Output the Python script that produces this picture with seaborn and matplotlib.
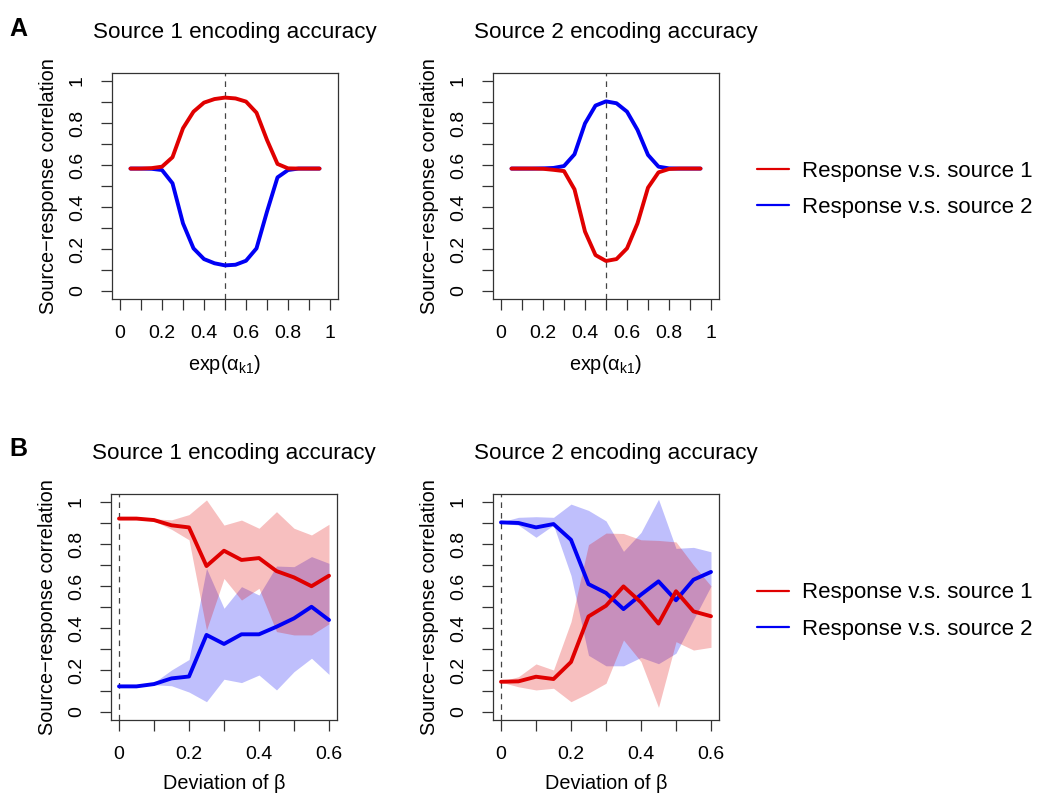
import numpy as np
import matplotlib
matplotlib.use("Agg")
import matplotlib.pyplot as plt
from matplotlib.lines import Line2D
import seaborn as sns

# ---- data ----
x_alpha = [0.05, 0.10, 0.15, 0.20, 0.25, 0.30, 0.35, 0.40, 0.45, 0.50,
           0.55, 0.60, 0.65, 0.70, 0.75, 0.80, 0.85, 0.90, 0.95]

a1_src1 = [0.583, 0.583, 0.585, 0.592, 0.637, 0.775, 0.854, 0.897, 0.914, 0.921,
           0.917, 0.902, 0.849, 0.719, 0.605, 0.584, 0.583, 0.583, 0.583]
a1_src2 = [0.583, 0.583, 0.582, 0.576, 0.513, 0.322, 0.203, 0.152, 0.132, 0.122,
           0.125, 0.144, 0.203, 0.378, 0.541, 0.576, 0.583, 0.583, 0.583]

a2_src1 = [0.583, 0.583, 0.583, 0.582, 0.577, 0.571, 0.484, 0.283, 0.171, 0.143,
           0.152, 0.203, 0.322, 0.492, 0.565, 0.581, 0.583, 0.583, 0.583]
a2_src2 = [0.583, 0.583, 0.583, 0.584, 0.586, 0.595, 0.651, 0.798, 0.883, 0.903,
           0.894, 0.854, 0.767, 0.648, 0.592, 0.584, 0.583, 0.583, 0.583]

x_beta = [0.0, 0.05, 0.10, 0.15, 0.20, 0.25, 0.30, 0.35, 0.40, 0.45, 0.50, 0.55, 0.60]

b1_src1 = [0.921, 0.921, 0.914, 0.889, 0.879, 0.695, 0.768, 0.724, 0.733, 0.671, 0.641, 0.599, 0.649]
b1_src1_hi = [0.922, 0.925, 0.920, 0.915, 0.940, 1.010, 0.890, 0.914, 0.875, 0.954, 0.875, 0.843, 0.894]
b1_src1_lo = [0.920, 0.918, 0.910, 0.870, 0.820, 0.390, 0.636, 0.533, 0.589, 0.383, 0.367, 0.367, 0.420]
b1_src2 = [0.122, 0.122, 0.133, 0.160, 0.169, 0.367, 0.324, 0.370, 0.370, 0.406, 0.446, 0.501, 0.438]
b1_src2_hi = [0.123, 0.125, 0.140, 0.200, 0.250, 0.684, 0.494, 0.597, 0.557, 0.695, 0.692, 0.740, 0.708]
b1_src2_lo = [0.121, 0.120, 0.130, 0.125, 0.095, 0.049, 0.156, 0.140, 0.176, 0.105, 0.192, 0.256, 0.179]

b2_src1 = [0.144, 0.146, 0.168, 0.157, 0.238, 0.455, 0.506, 0.598, 0.522, 0.421, 0.575, 0.479, 0.456]
b2_src1_hi = [0.146, 0.168, 0.229, 0.200, 0.430, 0.797, 0.852, 0.850, 0.820, 0.817, 0.810, 0.700, 0.600]
b2_src1_lo = [0.142, 0.120, 0.105, 0.113, 0.049, 0.090, 0.137, 0.343, 0.240, 0.022, 0.335, 0.295, 0.308]
b2_src2 = [0.903, 0.900, 0.879, 0.895, 0.820, 0.609, 0.567, 0.490, 0.559, 0.622, 0.532, 0.630, 0.667]
b2_src2_hi = [0.905, 0.927, 0.930, 0.927, 0.990, 0.960, 0.910, 0.765, 0.855, 1.013, 0.779, 0.784, 0.763]
b2_src2_lo = [0.900, 0.890, 0.832, 0.890, 0.650, 0.270, 0.220, 0.220, 0.260, 0.230, 0.280, 0.440, 0.600]

titles = ["Source 1 encoding accuracy", "Source 2 encoding accuracy"]
legend_labels = ["Response v.s. source 1", "Response v.s. source 2"]

RED = "#E00000"
BLUE = "#0000F5"

sns.set_style("white")
plt.rcParams["font.family"] = ["Liberation Sans", "DejaVu Sans"]
plt.rcParams["mathtext.fontset"] = "custom"
plt.rcParams["mathtext.rm"] = "Liberation Sans"
plt.rcParams["text.color"] = "black"
plt.rcParams["axes.labelcolor"] = "black"

W, H = 1041, 794
fig = plt.figure(figsize=(W / 100, H / 100), dpi=100)


def add_ax(left, top, right, bottom):
    return fig.add_axes([left / W, 1 - bottom / H, (right - left) / W, (bottom - top) / H])


def style_ax(ax, xmax, xlabel, title, xticks, xlabs):
    ax.set_xlim(-0.04 * xmax, 1.04 * xmax)
    ax.set_ylim(-0.04, 1.04)
    ax.set_xticks(xticks)
    ax.set_xticklabels(xlabs)
    yt = np.round(np.arange(0, 1.01, 0.1), 1)
    ax.set_yticks(yt)
    ax.set_yticklabels(["0", "", "0.2", "", "0.4", "", "0.6", "", "0.8", "", "1"])
    ax.tick_params(bottom=True, left=True, direction="out", length=8, width=0.9,
                   color="#333333", pad=10.5, labelsize=14, labelcolor="black")
    for lab in ax.get_yticklabels():
        lab.set_rotation(90)
        lab.set_va("center")
    for sp in ax.spines.values():
        sp.set_visible(True)
        sp.set_linewidth(0.9)
        sp.set_color("#333333")
    ax.set_xlabel(xlabel, fontsize=14.3, labelpad=7.5, color="black")
    ax.set_ylabel("Source\u2212response correlation", fontsize=14.3, labelpad=8,
                  color="black")
    ax.set_title(title, fontsize=16.1, x=0.545, pad=25, color="black")


top_xt = np.round(np.arange(0, 1.01, 0.1), 1)
top_xl = ["0", "", "0.2", "", "0.4", "", "0.6", "", "0.8", "", "1"]
bot_xt = np.round(np.arange(0, 0.61, 0.1), 1)
bot_xl = ["0", "", "0.2", "", "0.4", "", "0.6"]
alpha_lab = r"exp($\mathregular{\alpha_{k1}}$)"
beta_lab = "Deviation of \u03b2"

# ---- panel A ----
for i, (left, right, s1, s2) in enumerate([(111.6, 338.4, a1_src1, a1_src2),
                                           (492.6, 719.4, a2_src1, a2_src2)]):
    ax = add_ax(left, 72.6, right, 299.4)
    ax.axvline(0.5, color="#444444", lw=0.9, ls=(0, (4.5, 4)), zorder=1)
    sns.lineplot(x=x_alpha, y=s2, ax=ax, color=BLUE, lw=2.8, legend=False)
    sns.lineplot(x=x_alpha, y=s1, ax=ax, color=RED, lw=2.8, legend=False)
    style_ax(ax, 1.0, alpha_lab, titles[i], top_xt, top_xl)

# ---- panel B ----
panel_b = [(110.6, 337.4, b1_src1, b1_src1_lo, b1_src1_hi, b1_src2, b1_src2_lo, b1_src2_hi),
           (492.6, 719.4, b2_src1, b2_src1_lo, b2_src1_hi, b2_src2, b2_src2_lo, b2_src2_hi)]
for i, (left, right, s1, s1lo, s1hi, s2, s2lo, s2hi) in enumerate(panel_b):
    ax = add_ax(left, 493.6, right, 720.4)
    ax.fill_between(x_beta, s2lo, s2hi, color=BLUE, alpha=0.25, lw=0)
    ax.fill_between(x_beta, s1lo, s1hi, color=RED, alpha=0.25, lw=0)
    ax.axvline(0.0, color="#444444", lw=0.9, ls=(0, (4.5, 4)), zorder=1)
    sns.lineplot(x=x_beta, y=s2, ax=ax, color=BLUE, lw=2.8, legend=False)
    sns.lineplot(x=x_beta, y=s1, ax=ax, color=RED, lw=2.8, legend=False)
    style_ax(ax, 0.6, beta_lab, titles[i], bot_xt, bot_xl)

# ---- legends ----
handles = [Line2D([], [], color=RED, lw=1.6), Line2D([], [], color=BLUE, lw=1.6)]
for yc in (189.4, 611.0):
    leg = fig.legend(handles, legend_labels, loc="center left",
                     bbox_to_anchor=(757 / W, 1 - yc / H), frameon=False, fontsize=16,
                     handlelength=1.44, handletextpad=0.58, labelspacing=0.69,
                     borderpad=0, borderaxespad=0)
    for t in leg.get_texts():
        t.set_color("black")

# ---- panel letters ----
fig.text(9 / W, 1 - 36 / H, "A", fontsize=18, fontweight="bold", va="baseline")
fig.text(9 / W, 1 - 456 / H, "B", fontsize=18, fontweight="bold", va="baseline")

fig.savefig("out.png", dpi=100, facecolor="white")
